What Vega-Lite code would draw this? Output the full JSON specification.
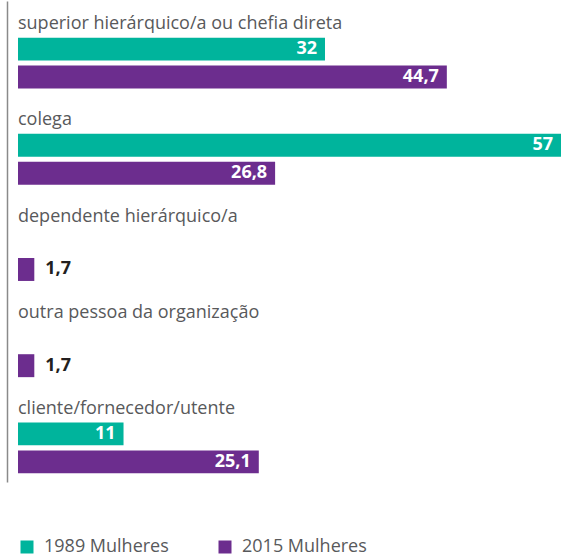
{
  "$schema": "https://vega.github.io/schema/vega-lite/v6.json",
  "width": 543,
  "height": 481,
  "autosize": "none",
  "padding": {"left": 18, "top": 1, "right": 0, "bottom": 75},
  "config": {
    "view": {"stroke": null},
    "font": "Open Sans",
    "locale": {"number": {"decimal": ",", "thousands": ".", "grouping": [3], "currency": ["", " €"]}}
  },
  "data": {
    "values": [
      {"categoria": "superior hierárquico/a ou chefia direta", "serie": "1989 Mulheres", "valor": 32},
      {"categoria": "superior hierárquico/a ou chefia direta", "serie": "2015 Mulheres", "valor": 44.7},
      {"categoria": "colega", "serie": "1989 Mulheres", "valor": 57},
      {"categoria": "colega", "serie": "2015 Mulheres", "valor": 26.8},
      {"categoria": "dependente hierárquico/a", "serie": "2015 Mulheres", "valor": 1.7},
      {"categoria": "outra pessoa da organização", "serie": "2015 Mulheres", "valor": 1.7},
      {"categoria": "cliente/fornecedor/utente", "serie": "1989 Mulheres", "valor": 11},
      {"categoria": "cliente/fornecedor/utente", "serie": "2015 Mulheres", "valor": 25.1}
    ]
  },
  "encoding": {
    "y": {
      "field": "categoria",
      "type": "nominal",
      "sort": null,
      "scale": {"paddingInner": 0, "paddingOuter": 0},
      "axis": {"title": null, "labels": false, "ticks": false, "grid": false, "domain": true, "domainColor": "#8a8a8a", "domainWidth": 1.5, "offset": 11}
    },
    "yOffset": {
      "field": "serie",
      "scale": {"domain": ["label", "1989 Mulheres", "2015 Mulheres"], "paddingInner": 0.18, "paddingOuter": 0.309}
    }
  },
  "layer": [
    {
      "mark": {"type": "bar"},
      "encoding": {
        "x": {"field": "valor", "type": "quantitative", "scale": {"domain": [0, 56.6], "clamp": true, "nice": false}, "axis": null},
        "color": {
          "field": "serie",
          "type": "nominal",
          "scale": {"domain": ["1989 Mulheres", "2015 Mulheres"], "range": ["#00B49C", "#6C2D8E"]},
          "legend": {
            "orient": "none", "legendX": 0, "legendY": 537, "direction": "horizontal", "title": null,
            "symbolType": "square", "symbolSize": 169, "symbolStrokeWidth": 0,
            "labelFontSize": 18, "labelColor": "#58595b", "labelOffset": 8, "columnPadding": 47
          }
        }
      }
    },
    {
      "transform": [{"filter": "datum.valor >= 5"}],
      "mark": {"type": "text", "align": "right", "baseline": "middle", "dx": -8, "color": "white", "fontWeight": "bold", "fontSize": 18},
      "encoding": {
        "x": {"field": "valor", "type": "quantitative"},
        "text": {"field": "valor", "type": "quantitative", "format": ".1~f"}
      }
    },
    {
      "transform": [{"filter": "datum.valor < 5"}],
      "mark": {"type": "text", "align": "left", "baseline": "middle", "dx": 11, "color": "#231f20", "fontWeight": "bold", "fontSize": 18},
      "encoding": {
        "x": {"field": "valor", "type": "quantitative"},
        "text": {"field": "valor", "type": "quantitative", "format": ".1~f"}
      }
    },
    {
      "transform": [{"filter": "datum.serie == '2015 Mulheres'"}],
      "mark": {"type": "text", "align": "left", "baseline": "middle", "dy": 3, "color": "#58595b", "fontSize": 18},
      "encoding": {
        "x": {"datum": 0},
        "yOffset": {"datum": "label"},
        "text": {"field": "categoria", "type": "nominal"}
      }
    }
  ]
}
